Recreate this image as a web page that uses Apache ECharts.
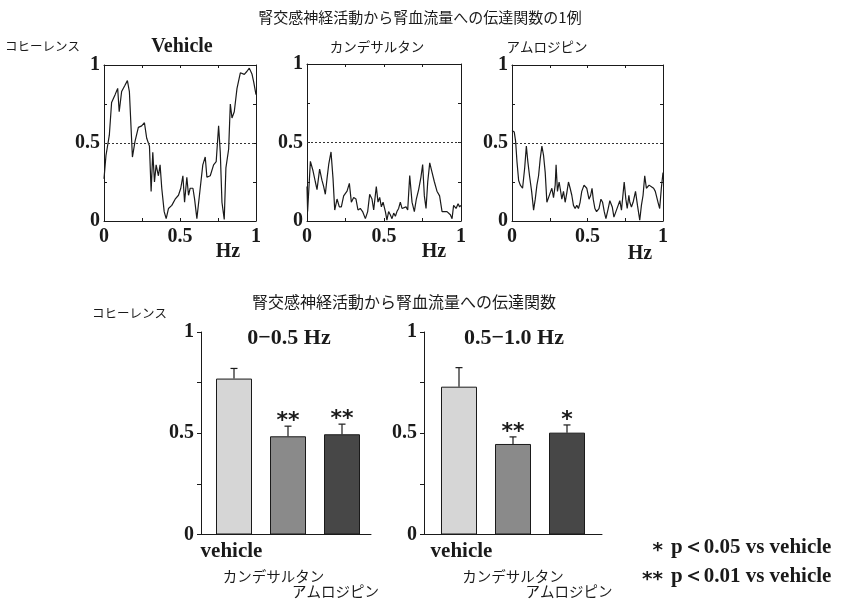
<!DOCTYPE html>
<html>
<head>
<meta charset="utf-8">
<script src="https://cdn.jsdelivr.net/npm/echarts@6/dist/echarts.min.js"></script>
<style>
html, body { margin: 0; padding: 0; background: #fff; }
#chart { width: 843px; height: 604px; }
</style>
</head>
<body>
<div id="chart"></div>
<script>
// Coherence spectra, [frequency (Hz), coherence]
const vehicleCoh = [
  [0.000,0.27],[0.013,0.42],[0.035,0.55],[0.050,0.76],[0.073,0.81],[0.090,0.85],[0.100,0.70],
  [0.116,0.83],[0.138,0.87],[0.154,0.90],[0.167,0.83],[0.187,0.41],[0.204,0.51],[0.226,0.60],
  [0.248,0.61],[0.266,0.63],[0.281,0.53],[0.299,0.48],[0.310,0.19],[0.321,0.44],[0.332,0.25],
  [0.343,0.36],[0.358,0.29],[0.369,0.36],[0.380,0.21],[0.396,0.06],[0.409,0.015],[0.424,0.08],
  [0.446,0.10],[0.468,0.14],[0.490,0.165],[0.505,0.21],[0.519,0.29],[0.530,0.12],[0.545,0.28],
  [0.556,0.165],[0.567,0.21],[0.585,0.21],[0.596,0.14],[0.611,0.015],[0.633,0.21],[0.650,0.36],
  [0.666,0.41],[0.677,0.28],[0.699,0.29],[0.721,0.36],[0.738,0.38],[0.754,0.61],[0.765,0.44],
  [0.776,0.12],[0.791,0.01],[0.802,0.34],[0.820,0.46],[0.831,0.75],[0.842,0.66],[0.857,0.70],
  [0.875,0.85],[0.897,0.95],[0.923,0.94],[0.941,0.96],[0.956,0.98],[0.974,0.94],[0.985,0.89],
  [1.000,0.81]
];
const candesartanCoh = [
  [0.000,0.22],[0.004,0.06],[0.022,0.38],[0.039,0.32],[0.054,0.25],[0.065,0.20],[0.082,0.33],
  [0.097,0.26],[0.108,0.22],[0.119,0.17],[0.130,0.27],[0.141,0.36],[0.156,0.44],[0.169,0.27],
  [0.180,0.07],[0.195,0.14],[0.210,0.09],[0.223,0.09],[0.238,0.16],[0.260,0.19],[0.275,0.24],
  [0.288,0.12],[0.303,0.15],[0.318,0.14],[0.331,0.07],[0.346,0.08],[0.361,0.06],[0.379,0.015],
  [0.394,0.06],[0.407,0.17],[0.422,0.14],[0.433,0.07],[0.450,0.22],[0.461,0.12],[0.472,0.15],
  [0.483,0.09],[0.494,0.12],[0.509,0.06],[0.519,0.005],[0.530,0.06],[0.541,0.04],[0.552,0.015],
  [0.563,0.05],[0.574,0.03],[0.584,0.06],[0.595,0.08],[0.606,0.12],[0.617,0.08],[0.628,0.07],
  [0.643,0.09],[0.654,0.07],[0.667,0.29],[0.682,0.12],[0.697,0.06],[0.710,0.14],[0.725,0.20],
  [0.740,0.28],[0.751,0.36],[0.762,0.16],[0.773,0.08],[0.784,0.25],[0.797,0.37],[0.812,0.31],
  [0.827,0.25],[0.844,0.19],[0.861,0.16],[0.877,0.06],[0.892,0.06],[0.909,0.06],[0.920,0.05],
  [0.931,0.04],[0.942,0.015],[0.952,0.10],[0.968,0.08],[0.981,0.11],[0.991,0.09],[1.000,0.10]
];
const amlodipineCoh = [
  [0.000,0.58],[0.015,0.57],[0.024,0.51],[0.033,0.38],[0.044,0.26],[0.055,0.23],[0.070,0.21],
  [0.084,0.34],[0.095,0.48],[0.105,0.38],[0.116,0.29],[0.130,0.19],[0.143,0.07],[0.154,0.14],
  [0.165,0.23],[0.176,0.29],[0.187,0.40],[0.198,0.48],[0.209,0.42],[0.220,0.31],[0.231,0.12],
  [0.242,0.15],[0.253,0.18],[0.264,0.21],[0.275,0.15],[0.286,0.23],[0.292,0.36],[0.301,0.19],
  [0.312,0.25],[0.319,0.21],[0.330,0.14],[0.341,0.19],[0.352,0.12],[0.363,0.18],[0.374,0.25],
  [0.385,0.21],[0.396,0.165],[0.407,0.10],[0.418,0.08],[0.429,0.10],[0.440,0.08],[0.451,0.12],
  [0.462,0.19],[0.477,0.23],[0.495,0.21],[0.510,0.14],[0.521,0.165],[0.530,0.21],[0.538,0.14],
  [0.549,0.08],[0.560,0.06],[0.576,0.08],[0.589,0.14],[0.600,0.12],[0.611,0.06],[0.622,0.015],
  [0.637,0.08],[0.648,0.13],[0.664,0.09],[0.675,0.025],[0.688,0.06],[0.703,0.10],[0.714,0.13],
  [0.725,0.07],[0.736,0.06],[0.743,0.25],[0.754,0.14],[0.763,0.08],[0.774,0.165],[0.780,0.12],
  [0.791,0.09],[0.802,0.12],[0.818,0.19],[0.831,0.10],[0.846,0.005],[0.857,0.10],[0.868,0.165],
  [0.879,0.29],[0.890,0.21],[0.908,0.23],[0.923,0.22],[0.938,0.21],[0.949,0.19],[0.967,0.12],
  [0.978,0.08],[0.989,0.21],[1.000,0.31]
];
const panelNames = ['Vehicle', 'カンデサルタン', 'アムロジピン'];
const coherenceLevel = 0.5;

// Mean coherence ± SEM per band
const groups = ['vehicle', 'カンデサルタン', 'アムロジピン'];
const bandNames = ['0−0.5 Hz', '0.5−1.0 Hz'];
const lowMean = [0.77, 0.485, 0.495];
const lowSem = [0.05, 0.05, 0.05];
const lowSig = ['', '**', '**'];
const highMean = [0.73, 0.447, 0.503];
const highSem = [0.094, 0.035, 0.038];
const highSig = ['', '**', '*'];
const sigNotes = [['*', 'p＜0.05 vs vehicle'], ['**', 'p＜0.01 vs vehicle']];

const titleTop = '腎交感神経活動から腎血流量への伝達関数の1例';
const titleBottom = '腎交感神経活動から腎血流量への伝達関数';
const yName = 'コヒーレンス';

const SERIF = '"Liberation Serif", "DejaVu Serif", serif';
const JP = '"Noto Sans CJK JP", sans-serif';
const INK = '#1a1a1a';
const barFill = ['#d6d6d6', '#8a8a8a', '#474747'];

const numLabel = v => (v === 0 ? '0' : v === 0.5 ? '0.5' : v === 1 ? '1' : '');
const numFont = { fontFamily: SERIF, fontWeight: 'bold', fontSize: 20, color: INK };

const chart = echarts.init(document.getElementById('chart'), null, { renderer: 'canvas' });

// spectrum panel frames
const spectrumGrids = [
  { left: 104, top: 65, width: 152, height: 156 },
  { left: 307, top: 64, width: 154, height: 157 },
  { left: 512, top: 65, width: 151, height: 156 }
];
// bar panels: one grid carries the frame axes, the other the category slots
const barGrids = [
  { left: 201, top: 332, width: 170, height: 202.5 },
  { left: 207, top: 332, width: 162, height: 202.5 },
  { left: 424, top: 332, width: 178, height: 202.5 },
  { left: 432, top: 332, width: 162, height: 202.5 }
];

const xAxes = [], yAxes = [], series = [];

spectrumGrids.forEach((g, i) => {
  const common = {
    gridIndex: i, type: 'value', min: 0, max: 1, interval: 0.25,
    axisLine: { show: true, onZero: false, lineStyle: { color: INK, width: 1 } },
    axisTick: { show: true, inside: true, length: 3, lineStyle: { color: INK } },
    splitLine: { show: false }
  };
  xAxes.push(Object.assign({}, common, { position: 'bottom',
    axisLabel: Object.assign({ formatter: numLabel, margin: 6, showMinLabel: true, showMaxLabel: true }, numFont) }));
  xAxes.push(Object.assign({}, common, { position: 'top', axisLabel: { show: false } }));
  yAxes.push(Object.assign({}, common, { position: 'left',
    axisLabel: Object.assign({ formatter: numLabel, margin: 4, showMinLabel: true, showMaxLabel: true }, numFont) }));
  yAxes.push(Object.assign({}, common, { position: 'right', axisLabel: { show: false } }));
});

const spectra = [vehicleCoh, candesartanCoh, amlodipineCoh];
spectra.forEach((d, i) => {
  series.push({
    type: 'line', xAxisIndex: 2 * i, yAxisIndex: 2 * i, data: d,
    showSymbol: false, symbol: 'none', lineStyle: { color: INK, width: 1.2 },
    markLine: {
      silent: true, symbol: ['none', 'none'], label: { show: false },
      lineStyle: { color: '#333', type: [2, 2], width: 1 },
      data: [{ yAxis: coherenceLevel }]
    }
  });
});

// bar panels; label offsets are [left, right] padding of each category label
const bars = [
  { mean: lowMean, sem: lowSem, sig: lowSig, shift: [[0, 5], [0, 29], [0, 13]] },
  { mean: highMean, sem: highSem, sig: highSig, shift: [[5, 0], [0, 0], [4, 0]] }
];

bars.forEach((b, k) => {
  const frameGrid = 3 + 2 * k, catGrid = 4 + 2 * k;
  // frame axes
  xAxes.push({
    gridIndex: frameGrid, type: 'value', min: 0, max: 1,
    axisLine: { show: true, onZero: false, lineStyle: { color: INK, width: 1 } },
    axisTick: { show: false }, axisLabel: { show: false }, splitLine: { show: false }
  });
  yAxes.push({
    gridIndex: frameGrid, type: 'value', min: 0, max: 1, interval: 0.25,
    axisLine: { show: true, lineStyle: { color: INK, width: 1 } },
    axisTick: { show: true, inside: false, length: 4, lineStyle: { color: INK } },
    axisLabel: Object.assign({ formatter: numLabel, margin: 7, showMinLabel: true, showMaxLabel: true }, numFont),
    splitLine: { show: false }
  });
  // category axes
  const rich = {};
  groups.forEach((g, i) => {
    const [pl, pr] = b.shift[i];
    const padTop = i === 0 ? 0 : (i === 1 ? 27 : 42);
    rich['c' + i] = i === 0
      ? { fontFamily: SERIF, fontWeight: 'bold', fontSize: 21, color: INK, lineHeight: 21, padding: [0, pr, 0, pl] }
      : { fontFamily: JP, fontSize: 14.5, color: INK, lineHeight: 16 + padTop, padding: [padTop, pr, 0, pl] };
  });
  xAxes.push({
    gridIndex: catGrid, type: 'category', data: groups,
    axisLine: { show: false }, axisTick: { show: false }, splitLine: { show: false },
    axisLabel: { interval: 0, margin: 7, formatter: (v, i) => '{c' + i + '|' + v + '}', rich }
  });
  yAxes.push({ gridIndex: catGrid, type: 'value', min: 0, max: 1, show: false });

  series.push({
    type: 'bar', xAxisIndex: 7 + 2 * k, yAxisIndex: 7 + 2 * k, barWidth: 36,
    data: b.mean.map((m, i) => ({ value: m, itemStyle: { color: barFill[i], borderColor: INK, borderWidth: 1 } }))
  });
  series.push({
    type: 'custom', xAxisIndex: 7 + 2 * k, yAxisIndex: 7 + 2 * k, z: 5,
    data: b.mean.map((m, i) => [i, m, b.sem[i]]),
    renderItem: (params, api) => {
      const i = api.value(0), m = api.value(1), e = api.value(2);
      const base = api.coord([i, m]);
      const top = api.coord([i, m + e]);
      const kids = [
        { type: 'line', shape: { x1: base[0], y1: base[1], x2: top[0], y2: top[1] }, style: { stroke: INK, lineWidth: 1.2 } },
        { type: 'line', shape: { x1: top[0] - 3.5, y1: top[1], x2: top[0] + 3.5, y2: top[1] }, style: { stroke: INK, lineWidth: 1.2 } }
      ];
      const s = b.sig[params.dataIndex];
      if (s) {
        kids.push({ type: 'text', style: { text: s, x: top[0], y: top[1] - 5, align: 'center', verticalAlign: 'middle',
          font: 'bold 22px "DejaVu Sans"', fill: INK } });
      }
      return { type: 'group', children: kids };
    }
  });
});

// free-standing texts
const txt = (text, x, y, font, align) => ({
  type: 'text', x, y, silent: true,
  style: { text, font, fill: INK, align: align || 'center', verticalAlign: 'middle' }
});
const graphics = [
  txt(titleTop, 420, 17, '15px ' + JP),
  txt(yName, 5, 46, '12.5px ' + JP, 'left'),
  txt(panelNames[0], 182, 47, 'bold 20px ' + SERIF),
  txt(panelNames[1], 377, 47, '13.5px ' + JP),
  txt(panelNames[2], 547, 47, '13.5px ' + JP),
  txt('Hz', 228, 252, 'bold 20px ' + SERIF),
  txt('Hz', 434, 252, 'bold 20px ' + SERIF),
  txt('Hz', 640, 254, 'bold 20px ' + SERIF),
  txt(titleBottom, 404, 302, '16px ' + JP),
  txt(yName, 92, 313, '12.5px ' + JP, 'left'),
  txt(bandNames[0], 289, 338, 'bold 22px ' + SERIF),
  txt(bandNames[1], 514, 338, 'bold 22px ' + SERIF)
];
sigNotes.forEach(([star, note], i) => {
  const y = 548 + i * 29;
  graphics.push(txt(star, 663, y + 3, 'bold 20px "DejaVu Sans"', 'right'));
  graphics.push(txt(note, 671, y, 'bold 21px ' + SERIF, 'left'));
});

chart.setOption({
  animation: false,
  backgroundColor: '#fff',
  grid: spectrumGrids.concat(barGrids).map(g => Object.assign({ containLabel: false }, g)),
  xAxis: xAxes,
  yAxis: yAxes,
  series,
  graphic: graphics
});
</script>
</body>
</html>
